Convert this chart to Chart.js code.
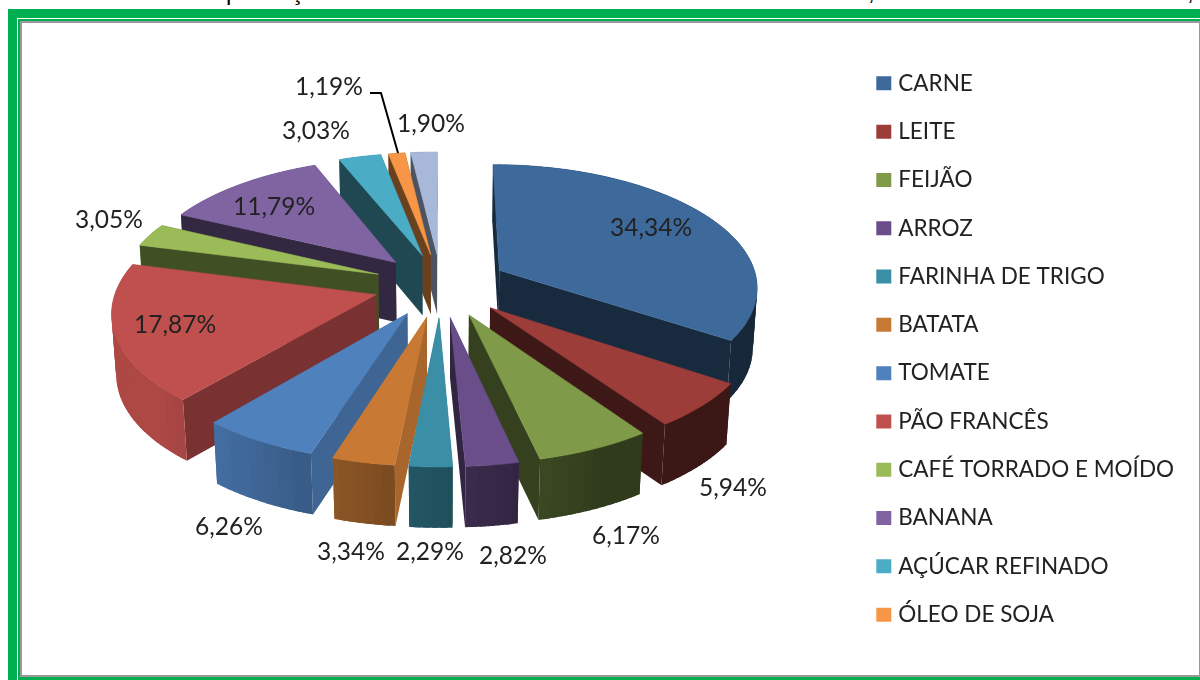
<!DOCTYPE html>
<html>
<head>
<meta charset="utf-8">
<script src="https://cdn.jsdelivr.net/npm/chart.js@4"></script>
<style>
    html, body { margin: 0; padding: 0; width: 1200px; height: 680px; overflow: hidden; background: #fff; }
    #frame { position: absolute; left: 8px; top: 9px; width: 1192px; height: 671px; background: #00b050; }
    #frameLine { position: absolute; left: 9px; top: 9px; right: 0; bottom: 0; border-left: 1px solid #fff; border-top: 1px solid #fff; }
    #frameInner { position: absolute; left: 12px; top: 12px; right: 0; bottom: 3px; background: #fff; border: 2px solid #9a9a9a; border-right-width: 1px; box-sizing: border-box; }
    canvas { position: absolute; left: 0; top: 0; }
    .cut { position: absolute; top: -22px; font: 24px "Liberation Sans", sans-serif; color: #000; }
</style>
</head>
<body>
<div id="frame"><div id="frameLine"></div><div id="frameInner"></div></div>
<span class="cut" style="left:226px">p</span>
<span class="cut" style="left:291px">ç</span>
<span class="cut" style="left:868px">,</span>
<span class="cut" style="left:1187px">,</span>
<canvas id="chart" width="1200" height="680"></canvas>
<script>
const categories = ['CARNE', 'LEITE', 'FEIJÃO', 'ARROZ', 'FARINHA DE TRIGO', 'BATATA', 'TOMATE', 'PÃO FRANCÊS', 'CAFÉ TORRADO E MOÍDO', 'BANANA', 'AÇÚCAR REFINADO', 'ÓLEO DE SOJA', ''];
const shares = [34.34, 5.94, 6.17, 2.82, 2.29, 3.34, 6.26, 17.87, 3.05, 11.79, 3.03, 1.19, 1.90];
const colors = ['#3d6a9b', '#9c3d3a', '#7f9a48', '#6a4e8a', '#3a8ea5', '#c87a35', '#4f81bd', '#c0504d', '#9bbb59', '#8064a2', '#4bacc6', '#f79646', '#a8b8d8'];

// how dark the flat cut wall of each slice is
const sideShade = [0.4, 0.4, 0.42, 0.47, 0.6, 0.84, 0.78, 0.63, 0.42, 0.4, 0.42, 0.43, 0.45];
// label centres, in page pixels
const labelSpots = [[651, 228], [733, 488], [626, 536], [513, 556], [430, 552], [351, 552], [229, 527], [175, 325], [109, 220], [274, 207], [316, 131], [329, 87], [431, 124]];

const FONT = 'Lato, "Open Sans", sans-serif';
const EXPLODE = 0.26;
const PERSPECTIVE = 0.123;

function shade(hex, f) {
    const n = parseInt(hex.slice(1), 16);
    const r = Math.round((n >> 16 & 255) * f);
    const g = Math.round((n >> 8 & 255) * f);
    const b = Math.round((n & 255) * f);
    return `rgb(${r},${g},${b})`;
}

function fillPath(ctx, points, color, edge) {
    ctx.beginPath();
    points.forEach((p, i) => i ? ctx.lineTo(p[0], p[1]) : ctx.moveTo(p[0], p[1]));
    ctx.closePath();
    ctx.fillStyle = color;
    ctx.fill();
    if (edge) {
        ctx.strokeStyle = color;
        ctx.lineWidth = 0.6;
        ctx.stroke();
    }
}

// flat chart.js pie -> tilted, exploded 3d pie
const pie3d = {
    id: 'pie3d',
    beforeDatasetsDraw(chart) {
        const ctx = chart.ctx;
        const arcs = chart.getDatasetMeta(0).data;
        const R = arcs[0].outerRadius;
        const cx = arcs[0].x + 13.5;
        const cy = arcs[0].y - 64;
        const a = R * 0.782;
        const b = R * 0.3686;
        const h = R * 0.19;

        const project = (x, v, z) => {
            const near = 1 - PERSPECTIVE * v;
            return [cx + a * x / (near + 0.014 * z), cy + (b * v + h * z) / (near + 0.047 * z)];
        };

        const order = arcs.map((arc, i) => i)
            .sort((p, q) => Math.sin((arcs[p].startAngle + arcs[p].endAngle) / 2) - Math.sin((arcs[q].startAngle + arcs[q].endAngle) / 2));

        ctx.save();
        order.forEach(i => {
            const arc = arcs[i];
            const mid = (arc.startAngle + arc.endAngle) / 2;
            const ox = Math.cos(mid) * EXPLODE;
            const ov = Math.sin(mid) * EXPLODE;
            const rim = (angle, z) => project(ox + Math.cos(angle), ov + Math.sin(angle), z);
            const apex = z => project(ox, ov, z);

            // walls, far ones first
            const walls = [];
            [arc.startAngle, arc.endAngle].forEach(angle => {
                walls.push({
                    depth: ov + Math.sin(angle) / 2,
                    points: [apex(0), rim(angle, 0), rim(angle, 1), apex(1)],
                    color: shade(colors[i], sideShade[i])
                });
            });
            const steps = Math.max(2, Math.ceil((arc.endAngle - arc.startAngle) / 0.03));
            for (let s = 0; s < steps; s++) {
                const a0 = arc.startAngle + (arc.endAngle - arc.startAngle) * s / steps;
                const a1 = arc.startAngle + (arc.endAngle - arc.startAngle) * (s + 1) / steps;
                const am = (a0 + a1) / 2;
                const f = Math.min(0.9, Math.max(0.38, 0.57 - 0.45 * Math.cos(am)));
                // a little overlap with the neighbour so no seams show
                const lo = Math.max(arc.startAngle, a0 - 0.012);
                const hi = Math.min(arc.endAngle, a1 + 0.012);
                walls.push({
                    depth: ov + Math.sin(am),
                    points: [rim(lo, 0), rim(hi, 0), rim(hi, 1), rim(lo, 1)],
                    color: shade(colors[i], f)
                });
            }
            walls.sort((p, q) => p.depth - q.depth).forEach(w => fillPath(ctx, w.points, w.color, false));

            // top face
            const top = [apex(0)];
            for (let s = 0; s <= steps; s++) {
                top.push(rim(arc.startAngle + (arc.endAngle - arc.startAngle) * s / steps, 0));
            }
            fillPath(ctx, top, colors[i], true);
        });

        // leader line of the small slice
        ctx.beginPath();
        ctx.moveTo(370, 93);
        ctx.lineTo(381, 93);
        ctx.lineTo(398, 153);
        ctx.strokeStyle = '#000';
        ctx.lineWidth = 2;
        ctx.stroke();

        // data labels
        ctx.fillStyle = '#222';
        ctx.font = '24.5px ' + FONT;
        ctx.textAlign = 'center';
        ctx.textBaseline = 'middle';
        shares.forEach((value, i) => {
            ctx.fillText(value.toFixed(2).replace('.', ',') + '%', labelSpots[i][0], labelSpots[i][1]);
        });
        ctx.restore();
        return false;
    }
};

new Chart(document.getElementById('chart'), {
    type: 'pie',
    data: {
        labels: categories,
        datasets: [{
            data: shares,
            backgroundColor: colors,
            borderWidth: 0
        }]
    },
    plugins: [pie3d],
    options: {
        responsive: false,
        animation: false,
        layout: { padding: { top: 18, right: 16 } },
        plugins: {
            tooltip: { enabled: false },
            legend: {
                position: 'right',
                labels: {
                    // thick outline on a small box keeps the text close to the swatch
                    generateLabels: () => categories.map((text, i) => ({
                        text,
                        fillStyle: colors[i],
                        strokeStyle: colors[i],
                        lineWidth: 8.5,
                        fontColor: '#222',
                        index: i
                    })),
                    filter: item => item.text !== '',
                    boxWidth: 6.5,
                    boxHeight: 5.5,
                    padding: 25.8,
                    font: { family: FONT, size: 22.5 }
                }
            }
        }
    }
});
</script>
</body>
</html>
